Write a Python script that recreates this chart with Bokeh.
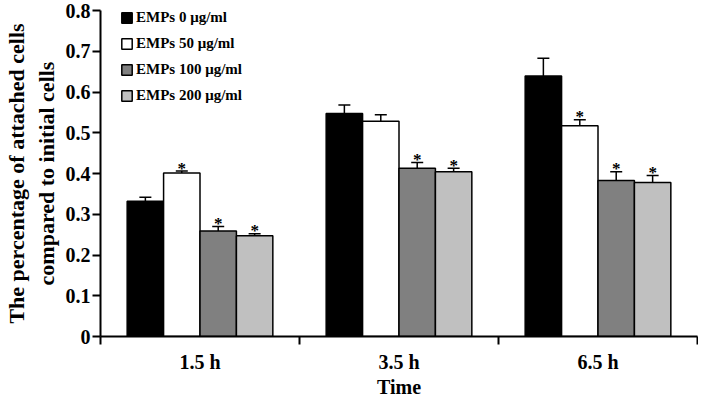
import numpy as np
from bokeh.plotting import figure
from bokeh.models import (ColumnDataSource, Whisker, TeeHead, FixedTicker, Range1d,
                          NumeralTickFormatter)
from bokeh.core.properties import value
from bokeh.embed import file_html
from bokeh.resources import INLINE

# ---- data ----
times = ["1.5 h", "3.5 h", "6.5 h"]
groups = ["EMPs 0 \u03bcg/ml", "EMPs 50 \u03bcg/ml", "EMPs 100 \u03bcg/ml", "EMPs 200 \u03bcg/ml"]
emp0 = [0.332, 0.547, 0.639]
emp50 = [0.401, 0.528, 0.517]
emp100 = [0.259, 0.413, 0.383]
emp200 = [0.247, 0.404, 0.378]
err0 = [0.010, 0.021, 0.044]
err50 = [0.005, 0.016, 0.015]
err100 = [0.011, 0.014, 0.021]
err200 = [0.005, 0.009, 0.017]
sig0 = [False, False, False]
sig50 = [True, False, True]
sig100 = [True, True, True]
sig200 = [True, True, True]
yticks = [0, 0.1, 0.2, 0.3, 0.4, 0.5, 0.6, 0.7, 0.8]
ylabel = "The percentage of attached cells\ncompared to initial cells"
xlabel = "Time"

means = [emp0, emp50, emp100, emp200]
errs = [err0, err50, err100, err200]
sigs = [sig0, sig50, sig100, sig200]
colors = ["#000000", "#ffffff", "#808080", "#c0c0c0"]
offsets = [-0.2745, -0.0915, 0.0915, 0.2745]
bar_w = 0.183
FONT = "Liberation Serif"

p = figure(width=698, height=400, x_range=Range1d(0, len(times)), y_range=Range1d(0, 0.8),
           output_backend="svg", toolbar_location=None,
           min_border_left=89, min_border_right=1, min_border_top=10, min_border_bottom=50)
p.outline_line_color = None
p.xgrid.grid_line_color = None
p.ygrid.grid_line_color = None
p.background_fill_color = "white"

base = np.arange(len(times)) + 0.5
for g, name in enumerate(groups):
    xs = base + offsets[g]
    tops = np.array(means[g])
    uppers = tops + np.array(errs[g])
    src = ColumnDataSource(dict(x=xs, top=tops, upper=uppers))
    p.vbar(x="x", top="top", width=bar_w, source=src, fill_color=colors[g],
           line_color="black", line_width=1.5, legend_label=name)
    p.add_layout(Whisker(source=src, base="x", lower="top", upper="upper",
                         upper_head=TeeHead(size=12, line_width=1.5, line_color="black"),
                         lower_head=None, line_width=1.5, line_color="black"))
    sx = [xs[i] for i in range(len(times)) if sigs[g][i]]
    sy = [uppers[i] for i in range(len(times)) if sigs[g][i]]
    if sx:
        p.text(x=sx, y=sy, text=["*"] * len(sx), text_font=value(FONT), text_font_style="bold",
               text_font_size="17px", text_align="center", text_baseline="alphabetic",
               y_offset=-3, text_color="black")

# y axis
ya = p.yaxis[0]
ya.ticker = FixedTicker(ticks=yticks)
ya.formatter = NumeralTickFormatter(format="0.[0]")
ya.axis_label = ylabel
ya.axis_label_text_font = FONT
ya.axis_label_text_font_style = "bold"
ya.axis_label_text_font_size = "22px"
ya.axis_label_text_color = "black"
ya.axis_label_standoff = 4
ya.major_label_text_font = FONT
ya.major_label_text_font_style = "bold"
ya.major_label_text_font_size = "20px"
ya.major_label_text_color = "black"
ya.major_label_standoff = 2
ya.major_tick_out = 8
ya.major_tick_in = 0
ya.minor_tick_line_color = None
ya.axis_line_width = 2
ya.major_tick_line_width = 2
ya.axis_line_color = "black"

# x axis
xa = p.xaxis[0]
xa.ticker = FixedTicker(ticks=list(base), minor_ticks=list(range(len(times) + 1)))
xa.major_label_overrides = {float(b): t for b, t in zip(base, times)}
xa.major_label_text_font = FONT
xa.major_label_text_font_style = "bold"
xa.major_label_text_font_size = "20px"
xa.major_label_text_color = "black"
xa.major_label_standoff = 6
xa.major_tick_out = 0
xa.major_tick_in = 0
xa.major_tick_line_color = None
xa.minor_tick_out = 8
xa.minor_tick_in = 0
xa.minor_tick_line_width = 2
xa.axis_line_width = 2
xa.axis_label = xlabel
xa.axis_label_text_font = FONT
xa.axis_label_text_font_style = "bold"
xa.axis_label_text_font_size = "20px"
xa.axis_label_text_color = "black"
xa.axis_label_standoff = 0

# legend
lg = p.legend[0]
lg.location = (20, 232)
lg.border_line_color = None
lg.background_fill_alpha = 0
lg.padding = 0
lg.margin = 0
lg.spacing = 9
lg.glyph_width = 13
lg.glyph_height = 13
lg.label_height = 13
lg.label_standoff = 3
lg.label_text_font = FONT
lg.label_text_font_style = "bold"
lg.label_text_font_size = "15px"
lg.label_text_color = "black"
lg.label_text_baseline = "middle"

open("out.html", "w").write(file_html(p, INLINE))
